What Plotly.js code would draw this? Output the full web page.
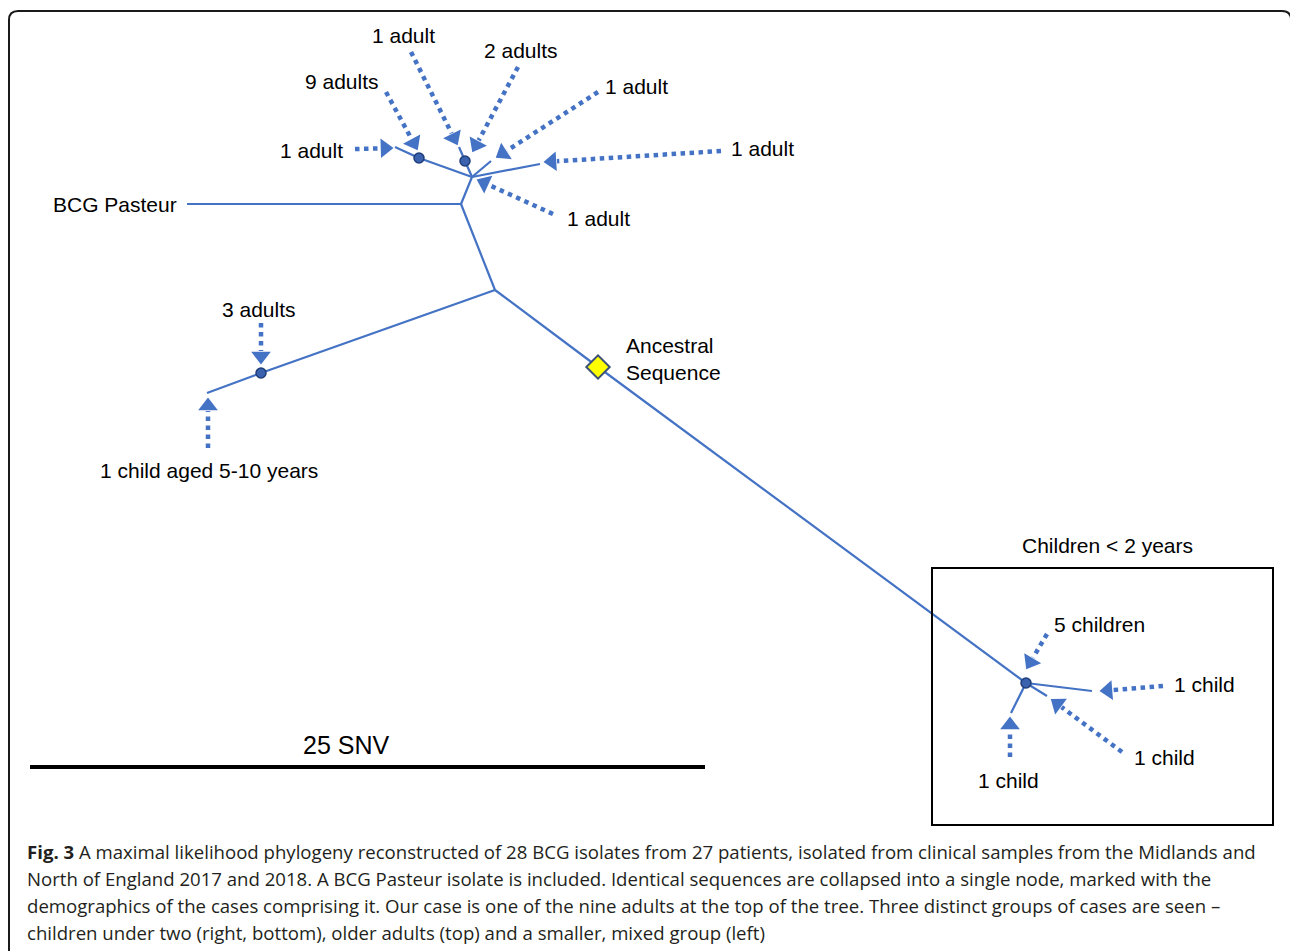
<!DOCTYPE html>
<html>
<head>
<meta charset="utf-8">
<script src="https://cdn.plot.ly/plotly-3.0.1.min.js"></script>
<style>html,body{margin:0;padding:0;background:#fff;}#chart{width:1290px;height:951px;}</style>
</head>
<body>
<div id="chart"></div>
<script>
// ---- Tree nodes (diagram coordinates) ----
const nodeNames = ["BCG","A","T","L1","N9","N2","L2","L3","L4","B","N3","Lch","ANC","C","Lc1","Lc2","Lc3"];
const nodeX     = [187, 461, 472, 395, 419, 465, 459, 491, 540, 495, 261, 207, 598, 1026, 1092, 1047, 1011];
const nodeY     = [204, 204, 177, 147, 158, 161, 147, 161, 164, 290, 373, 393, 367, 683, 691, 696, 713];

// ---- Tree edges ----
const edgeFrom = ["BCG","A","T","N9","T","N2","T","T","A","B","N3","B","ANC","C","C","C"];
const edgeTo   = ["A","T","N9","L1","N2","L2","L3","L4","B","N3","Lch","ANC","C","Lc1","Lc2","Lc3"];

// ---- Collapsed nodes (identical sequences) ----
const collapsedNodes = ["N9","N2","N3","C"];
const ancestralNode = "ANC";

// ---- Annotations with dotted arrows ----
const arrowLabel = ["1 adult","9 adults","1 adult","2 adults","1 adult","1 adult","1 adult",
                    "3 adults","1 child aged 5-10 years","5 children","1 child","1 child","1 child"];
const labelX     = [311, 342, 403, 521, 636, 762, 598, 259, 209, 1099, 1204, 1164, 1008];
const labelY     = [150,  81,  35,  50,  86, 148, 218, 309, 470,  624,  684,  757,  780];
const arrowFromX = [355, 386, 411, 518, 598, 721, 553, 261, 208, 1047, 1163, 1122, 1010];
const arrowFromY = [149,  92,  52,  67,  92, 151, 214, 323, 448,  634,  686,  752,  757];
const arrowToX   = [392, 417, 457, 473, 497, 545, 478, 261, 208, 1027, 1101, 1052, 1010];
const arrowToY   = [148, 149, 144, 151, 157, 162, 180, 363, 399,  668,  691,  700,  718];

// ---- Other labels ----
const pasteurLabel = {text:"BCG Pasteur", x:51, y:204};
const ancestralLabel = {text:"Ancestral<br>Sequence", x:624, y:359};
const groupLabel = {text:"Children < 2 years", x:1107, y:545};
const groupBox = {x0:932, y0:568, x1:1273, y1:825};
const scaleBarLabel = "25 SNV";
const scaleBarX = [30, 705];
const scaleBarY = [767, 767];
const scaleLabelPos = {x:346, y:745};

const captionLines = [
  "<b>Fig. 3</b> A maximal likelihood phylogeny reconstructed of 28 BCG isolates from 27 patients, isolated from clinical samples from the Midlands and",
  "North of England 2017 and 2018. A BCG Pasteur isolate is included. Identical sequences are collapsed into a single node, marked with the",
  "demographics of the cases comprising it. Our case is one of the nine adults at the top of the tree. Three distinct groups of cases are seen –",
  "children under two (right, bottom), older adults (top) and a smaller, mixed group (left)"
];
const captionX = 25;
const captionY = [851, 878, 905, 932];

// ---- Build traces ----
const idx = n => nodeNames.indexOf(n);
const BLUE = "#4472c4";
const traces = [];

const ex = [], ey = [];
edgeFrom.forEach((f, i) => {
  const a = idx(f), b = idx(edgeTo[i]);
  ex.push(nodeX[a], nodeX[b], null);
  ey.push(nodeY[a], nodeY[b], null);
});
traces.push({type:"scatter", mode:"lines", x:ex, y:ey, hoverinfo:"skip",
  line:{color:BLUE, width:2.2}});

// dotted arrows with triangle heads
arrowLabel.forEach((lab, i) => {
  const dx = arrowToX[i] - arrowFromX[i], dy = arrowToY[i] - arrowFromY[i];
  const len = Math.hypot(dx, dy);
  const ux = dx / len, uy = dy / len;
  const back = 7; // head centre is set back from the tip
  const hx = arrowToX[i] - ux * back, hy = arrowToY[i] - uy * back;
  traces.push({type:"scatter", mode:"lines", hoverinfo:"skip",
    x:[arrowFromX[i], hx - ux*5], y:[arrowFromY[i], hy - uy*5],
    line:{color:BLUE, width:4.5, dash:"dot"}});
  traces.push({type:"scatter", mode:"markers", hoverinfo:"skip",
    x:[arrowFromX[i], hx], y:[arrowFromY[i], hy],
    marker:{symbol:["circle","triangle-up"], size:[0,17], color:BLUE, opacity:1, angleref:"previous",
            line:{width:0}}});
});

// collapsed node circles
traces.push({type:"scatter", mode:"markers", hoverinfo:"skip",
  x:collapsedNodes.map(n => nodeX[idx(n)]), y:collapsedNodes.map(n => nodeY[idx(n)]),
  marker:{symbol:"circle", size:10, color:"#3a62ae", opacity:1, line:{color:"#1f3d7a", width:1.5}}});

// ancestral diamond
traces.push({type:"scatter", mode:"markers", hoverinfo:"skip",
  x:[nodeX[idx(ancestralNode)]], y:[nodeY[idx(ancestralNode)]],
  marker:{symbol:"diamond", size:18, color:"#ffff00", opacity:1, line:{color:"#3b5078", width:2}}});

// scale bar
traces.push({type:"scatter", mode:"lines", hoverinfo:"skip",
  x:scaleBarX, y:scaleBarY, line:{color:"#000", width:4}});

// ---- Annotations ----
const LF = {family:"Liberation Sans, Arial, sans-serif", size:21, color:"#000"};
const ann = [];
arrowLabel.forEach((lab, i) => {
  ann.push({x:labelX[i], y:labelY[i], xref:"x", yref:"y", text:lab, showarrow:false,
    xanchor:"center", yanchor:"middle", font:LF});
});
ann.push({x:pasteurLabel.x, y:pasteurLabel.y, text:pasteurLabel.text, showarrow:false,
  xanchor:"left", yanchor:"middle", font:LF});
ann.push({x:ancestralLabel.x, y:ancestralLabel.y, text:ancestralLabel.text, showarrow:false,
  xanchor:"left", yanchor:"middle", align:"left", font:LF});
ann.push({x:groupLabel.x, y:groupLabel.y, text:groupLabel.text, showarrow:false,
  xanchor:"center", yanchor:"middle", font:LF});
ann.push({x:scaleLabelPos.x, y:scaleLabelPos.y, text:scaleBarLabel, showarrow:false,
  xanchor:"center", yanchor:"middle", font:{family:"Liberation Sans, Arial, sans-serif", size:25, color:"#000"}});
captionLines.forEach((t, i) => {
  ann.push({x:captionX, y:captionY[i], text:t, showarrow:false, xanchor:"left", yanchor:"middle",
    font:{family:"Open Sans, sans-serif", size:18.6, color:"#231f20"}});
});

const shapes = [
  {type:"path", xref:"x", yref:"y",
   path:"M 9,965 L 9,20 Q 9,11 18,11 L 1282,11 Q 1291,11 1291,20 L 1291,965",
   line:{color:"#1a1a1a", width:2}},
  {type:"rect", xref:"x", yref:"y", x0:groupBox.x0, y0:groupBox.y0, x1:groupBox.x1, y1:groupBox.y1,
   line:{color:"#000", width:2}}
];

const layout = {
  width:1290, height:951,
  margin:{l:0, r:0, t:0, b:0},
  paper_bgcolor:"#fff", plot_bgcolor:"#fff",
  showlegend:false,
  xaxis:{range:[0,1290], visible:false, fixedrange:true},
  yaxis:{range:[951,0], visible:false, fixedrange:true},
  annotations:ann, shapes:shapes
};
Plotly.newPlot("chart", traces, layout, {displayModeBar:false, staticPlot:true});
</script>
</body>
</html>
